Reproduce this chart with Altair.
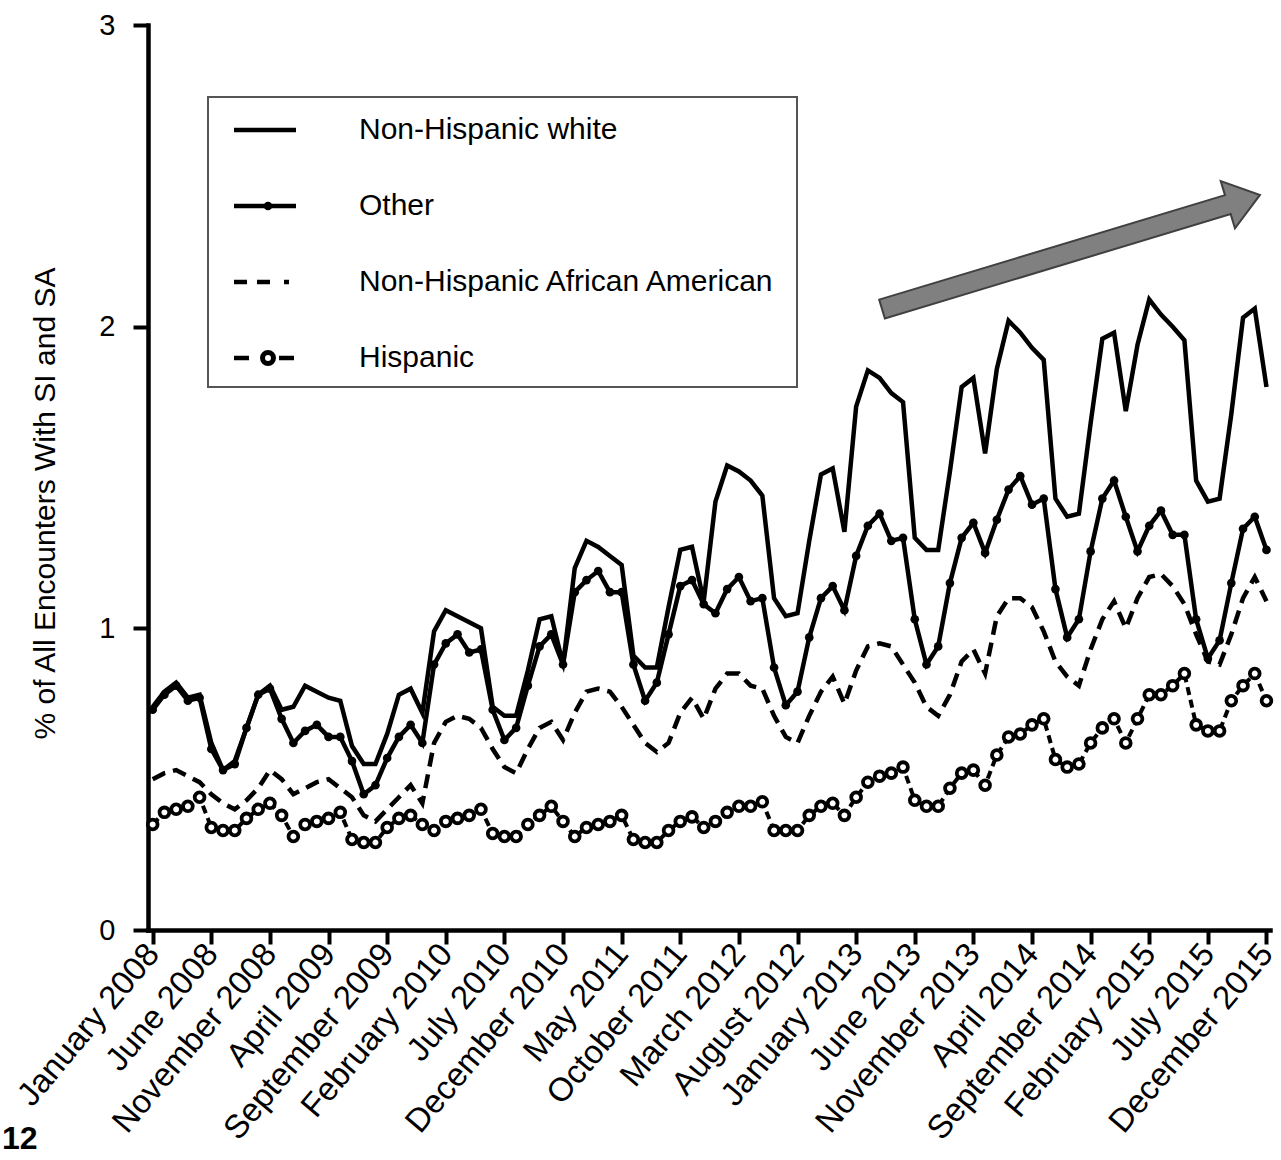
import altair as alt
import pandas as pd

FONT = "Liberation Sans, Arial, Helvetica, sans-serif"

groups = ["Non-Hispanic white", "Other", "Non-Hispanic African American", "Hispanic"]

# Monthly share (%) of all encounters with SI and SA, January 2008 - December 2015
nhw = [0.74, 0.79, 0.82, 0.77, 0.78, 0.62, 0.53, 0.56, 0.67, 0.78, 0.81, 0.73,
       0.74, 0.81, 0.79, 0.77, 0.76, 0.61, 0.55, 0.55, 0.65, 0.78, 0.80, 0.72,
       0.99, 1.06, 1.04, 1.02, 1.00, 0.74, 0.71, 0.71, 0.86, 1.03, 1.04, 0.88,
       1.20, 1.29, 1.27, 1.24, 1.21, 0.91, 0.87, 0.87, 1.07, 1.26, 1.27, 1.09,
       1.42, 1.54, 1.52, 1.49, 1.44, 1.10, 1.04, 1.05, 1.29, 1.51, 1.53, 1.32,
       1.735, 1.855, 1.83, 1.78, 1.75, 1.30, 1.26, 1.26, 1.52, 1.80, 1.83, 1.58,
       1.86, 2.02, 1.98, 1.93, 1.89, 1.43, 1.37, 1.38, 1.68, 1.96, 1.98, 1.72,
       1.94, 2.09, 2.04, 2.00, 1.955, 1.49, 1.42, 1.43, 1.71, 2.03, 2.06, 1.80]

other = [0.73, 0.78, 0.81, 0.76, 0.77, 0.60, 0.53, 0.55, 0.67, 0.78, 0.80, 0.70,
         0.62, 0.66, 0.68, 0.64, 0.64, 0.56, 0.45, 0.48, 0.57, 0.64, 0.68, 0.62,
         0.88, 0.95, 0.98, 0.92, 0.93, 0.73, 0.63, 0.67, 0.81, 0.94, 0.98, 0.88,
         1.12, 1.16, 1.19, 1.12, 1.12, 0.88, 0.76, 0.82, 0.98, 1.14, 1.16, 1.08,
         1.05, 1.13, 1.17, 1.09, 1.10, 0.87, 0.745, 0.79, 0.97, 1.10, 1.14, 1.06,
         1.24, 1.34, 1.38, 1.29, 1.30, 1.03, 0.88, 0.94, 1.15, 1.30, 1.35, 1.25,
         1.36, 1.46, 1.505, 1.41, 1.43, 1.13, 0.97, 1.03, 1.255, 1.43, 1.49, 1.37,
         1.255, 1.34, 1.39, 1.31, 1.31, 1.03, 0.90, 0.96, 1.15, 1.33, 1.37, 1.26]

african_american = [0.50, 0.52, 0.53, 0.51, 0.49, 0.45, 0.42, 0.40, 0.43, 0.47, 0.53, 0.50,
                    0.45, 0.47, 0.49, 0.50, 0.47, 0.44, 0.38, 0.36, 0.40, 0.44, 0.48, 0.42,
                    0.62, 0.69, 0.71, 0.70, 0.67, 0.60, 0.54, 0.52, 0.60, 0.67, 0.69, 0.63,
                    0.72, 0.79, 0.80, 0.79, 0.74, 0.68, 0.62, 0.59, 0.62, 0.72, 0.77, 0.70,
                    0.80, 0.85, 0.85, 0.81, 0.80, 0.71, 0.64, 0.62, 0.71, 0.79, 0.84, 0.75,
                    0.86, 0.94, 0.95, 0.94, 0.88, 0.82, 0.74, 0.71, 0.78, 0.89, 0.93, 0.85,
                    1.04, 1.10, 1.10, 1.07, 0.99, 0.89, 0.84, 0.81, 0.93, 1.03, 1.09, 1.00,
                    1.10, 1.17, 1.18, 1.14, 1.08, 0.98, 0.89, 0.88, 0.98, 1.10, 1.17, 1.09]

hispanic = [0.35, 0.39, 0.40, 0.41, 0.44, 0.34, 0.33, 0.33, 0.37, 0.40, 0.42, 0.38,
            0.31, 0.35, 0.36, 0.37, 0.39, 0.30, 0.29, 0.29, 0.34, 0.37, 0.38, 0.35,
            0.33, 0.36, 0.37, 0.38, 0.40, 0.32, 0.31, 0.31, 0.35, 0.38, 0.41, 0.36,
            0.31, 0.34, 0.35, 0.36, 0.38, 0.30, 0.29, 0.29, 0.33, 0.36, 0.375, 0.34,
            0.36, 0.39, 0.41, 0.41, 0.425, 0.33, 0.33, 0.33, 0.38, 0.41, 0.42, 0.38,
            0.44, 0.49, 0.51, 0.52, 0.54, 0.43, 0.41, 0.41, 0.47, 0.52, 0.53, 0.48,
            0.58, 0.64, 0.65, 0.68, 0.70, 0.565, 0.54, 0.55, 0.62, 0.67, 0.70, 0.62,
            0.70, 0.78, 0.78, 0.81, 0.85, 0.68, 0.66, 0.66, 0.76, 0.81, 0.85, 0.76]

tick_labels = ["January 2008", "June 2008", "November 2008", "April 2009",
               "September 2009", "February 2010", "July 2010", "December 2010",
               "May 2011", "October 2011", "March 2012", "August 2012",
               "January 2013", "June 2013", "November 2013", "April 2014",
               "September 2014", "February 2015", "July 2015", "December 2015"]
tick_step = 5

frames = []
for name, vals in zip(groups, [nhw, other, african_american, hispanic]):
    frames.append(pd.DataFrame({"month": list(range(len(vals))), "pct": vals, "group": name}))
df = pd.concat(frames, ignore_index=True)

label_expr = "[" + ", ".join(repr(t) for t in tick_labels) + "][round(datum.value / %d)]" % tick_step

x_axis = alt.Axis(
    values=list(range(0, len(nhw), tick_step)), labelExpr=label_expr, title=None, grid=False,
    domainColor="black", domainWidth=4.5, domainCap="square",
    tickColor="black", tickWidth=4, tickSize=14,
    labelAngle=310, labelAlign="right", labelBaseline="middle",
    labelFont=FONT, labelFontSize=33, labelColor="black", labelPadding=4, labelLimit=600,
    labelOverlap=False, labelFlush=False, labelBound=False,
)
y_axis = alt.Axis(
    values=[0, 1, 2, 3], format="d", title="% of All Encounters With SI and SA", grid=False,
    domainColor="black", domainWidth=4.5, domainCap="square",
    tickColor="black", tickWidth=4, tickSize=15,
    labelFont=FONT, labelFontSize=29, labelColor="black", labelPadding=18,
    titleFont=FONT, titleFontSize=30, titleFontWeight="normal", titleColor="black",
    titleAngle=270, titleAlign="center", titleBaseline="middle", titleX=-103, titleY=478,
)

x_enc = alt.X("month:Q", scale=alt.Scale(domain=[-0.4, 95.3], nice=False, zero=False), axis=x_axis)
y_enc = alt.Y("pct:Q", scale=alt.Scale(domain=[0, 3], nice=False), axis=y_axis)

base = alt.Chart(df).encode(x=x_enc, y=y_enc)


def series(name):
    return base.transform_filter(alt.datum.group == name)


line_white = series(groups[0]).mark_line(color="black", strokeWidth=4.5)
line_other = series(groups[1]).mark_line(color="black", strokeWidth=4.5)
pts_other = series(groups[1]).mark_point(filled=True, color="black", size=75, opacity=1)
line_aa = series(groups[2]).mark_line(color="black", strokeWidth=4.5, strokeDash=[14, 8])
line_hisp = series(groups[3]).mark_line(color="black", strokeWidth=4, strokeDash=[8, 5])
pts_hisp = series(groups[3]).mark_point(shape="circle", filled=False, fill="white", fillOpacity=1,
                                        stroke="black", strokeWidth=3.8, size=95, opacity=1)

one = pd.DataFrame({"k": [0]})

# legend panel (pixel positions inside the plot area)
legend_box = alt.Chart(one).mark_rect(fill="white", stroke="#555555", strokeWidth=2).encode(
    x=alt.value(60), x2=alt.value(649), y=alt.value(72), y2=alt.value(362))

legend_layers = [legend_box]
sym_x0, sym_x1, sym_mid, text_x = 86, 148, 120, 211
dash_styles = [None, None, [13, 10, 13, 14, 5, 40], [15, 30, 15, 40]]
for row, name in enumerate(groups):
    yp = 105 + 76 * row
    rule_kw = dict(color="black", strokeWidth=4.5)
    if dash_styles[row] is not None:
        rule_kw["strokeDash"] = dash_styles[row]
    legend_layers.append(alt.Chart(one).mark_rule(**rule_kw).encode(
        x=alt.value(sym_x0), x2=alt.value(sym_x1), y=alt.value(yp)))
    if row == 1:
        legend_layers.append(alt.Chart(one).mark_point(filled=True, color="black", size=75, opacity=1).encode(
            x=alt.value(sym_mid), y=alt.value(yp)))
    if row == 3:
        legend_layers.append(alt.Chart(one).mark_point(shape="circle", filled=False, fill="white",
                                                       fillOpacity=1, stroke="black", strokeWidth=5,
                                                       size=120, opacity=1).encode(
            x=alt.value(sym_mid), y=alt.value(yp)))
    legend_layers.append(alt.Chart(one).mark_text(
        text=name, font=FONT, fontSize=30, color="black", align="left", baseline="middle").encode(
        x=alt.value(text_x), y=alt.value(yp)))

# upward trend arrow
arrow_path = ("M -1 -0.05 L 0.83 -0.05 L 0.83 -0.125 L 1 0 "
              "L 0.83 0.125 L 0.83 0.05 L -1 0.05 Z")
arrow = alt.Chart(one).mark_point(shape=arrow_path, filled=True, fill="#808080", fillOpacity=1,
                                  stroke="#404040", strokeWidth=2, size=155867, angle=343.2,
                                  opacity=1).encode(x=alt.value(923), y=alt.value(227))

# page number in the lower-left corner
page_no = alt.Chart(one).mark_text(text="12", font=FONT, fontSize=32, fontWeight="bold",
                                   color="black", align="left", baseline="alphabetic").encode(
    x=alt.value(-146), y=alt.value(1124))

chart = alt.layer(
    line_aa, line_hisp, pts_hisp, line_other, pts_other, line_white,
    *legend_layers, arrow, page_no
).properties(
    width=1122, height=905,
    autosize=alt.AutoSizeParams(type="none"),
    padding={"left": 148, "top": 25, "right": 11, "bottom": 230},
    background="white",
).configure_view(stroke=None)

chart.save("out.html", embed_options={"renderer": "svg", "actions": False})
